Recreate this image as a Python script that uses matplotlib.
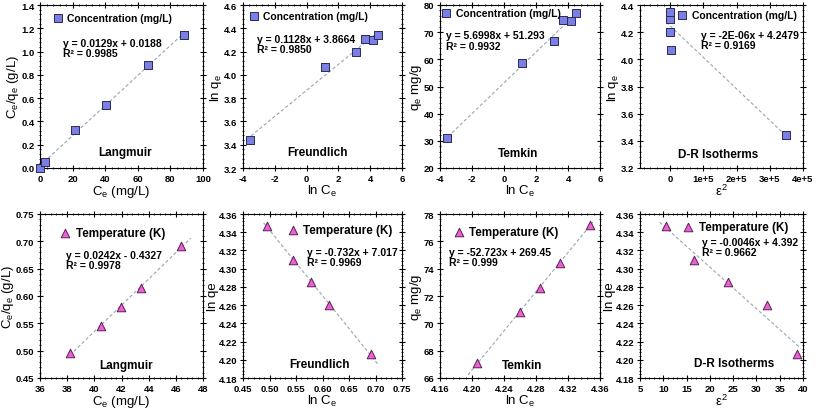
import numpy as np
import matplotlib
matplotlib.use("Agg")
import matplotlib.pyplot as plt
from matplotlib.ticker import AutoMinorLocator, FuncFormatter

# --- data ---
# top row: concentration series
ce_conc = [0.029, 3.0, 21.5, 40.5, 66.0, 88.5]
ceqe_conc = [0.0, 0.055, 0.325, 0.545, 0.885, 1.145]
lnce_conc = [-3.55, 1.15, 3.10, 3.70, 4.20, 4.50]
lnqe_conc = [3.44, 4.07, 4.20, 4.31, 4.30, 4.345]
qe_conc = [31.2, 58.5, 66.6, 74.5, 74.2, 77.2]
eps2_conc = [348000, 1000, 200, 60, 30, 10]

# bottom row: temperature series
ce_temp = [38.2, 40.5, 41.95, 43.45, 46.35]
ceqe_temp = [0.496, 0.545, 0.579, 0.614, 0.692]
lnce_temp = [0.495, 0.545, 0.578, 0.613, 0.691]
lnqe_temp = [4.347, 4.310, 4.285, 4.260, 4.206]
lnce_temp2 = [4.206, 4.260, 4.285, 4.310, 4.347]
qe_temp = [67.1, 70.8, 72.6, 74.45, 77.2]
eps2_temp = [10.5, 16.5, 24.0, 32.3, 38.7]
lnqe_temp2 = [4.347, 4.310, 4.285, 4.260, 4.206]

plt.rcParams.update({
    "font.family": "Liberation Sans",
    "mathtext.default": "regular",
    "xtick.direction": "inout",
    "ytick.direction": "inout",
    "xtick.top": True,
    "ytick.right": True,
    "xtick.minor.visible": True,
    "ytick.minor.visible": True,
    "xtick.major.size": 4,
    "ytick.major.size": 4,
    "xtick.minor.size": 2,
    "ytick.minor.size": 2,
    "xtick.major.width": 0.8,
    "ytick.major.width": 0.8,
    "xtick.minor.width": 0.6,
    "ytick.minor.width": 0.6,
    "axes.linewidth": 0.8,
})

SQ = dict(marker="s", s=30, facecolor="#7a7fe6", edgecolor="#2a2a55", linewidths=0.7, zorder=3)
TRI = dict(marker="^", s=38, facecolor="#ec5fd6", edgecolor="#5a2050", linewidths=0.7, zorder=3)
LINE_C = "#98a6b4"

fig = plt.figure(figsize=(8.16, 4.14), dpi=100)

cols = [40, 243, 440, 640]
widths = [163, 159, 160, 163]
top_row = (1 - 169 / 414, 163 / 414)
bot_row = (1 - 379 / 414, 164 / 414)

panels = [
    dict(x=ce_conc, y=ceqe_conc, st=SQ, xlim=(0, 100), ylim=(0, 1.4),
         xt=np.arange(0, 101, 20), yt=np.arange(0, 1.41, 0.2), yfmt="%.1f", xfmt="%d",
         fr=(0, 90), xl="C$_e$ (mg/L)", yl="C$_e$/q$_e$ (g/L)", lab="Concentration (mg/L)",
         ls=7.5, leg=(0.09, 0.92), eq=(0.14, 0.736), eqt="y = 0.0129x + 0.0188\nR² = 0.9985",
         ti="Langmuir", tp=(0.52, 0.10), r=0, c=0),
    dict(x=lnce_conc, y=lnqe_conc, st=SQ, xlim=(-4, 6), ylim=(3.2, 4.6),
         xt=np.arange(-4, 7, 2), yt=np.arange(3.2, 4.61, 0.2), yfmt="%.1f", xfmt="%d",
         fr=(-3.5, 4.5), xl="ln C$_e$", yl="ln q$_e$", lab="Concentration (mg/L)",
         ls=7.5, leg=(0.05, 0.935), eq=(0.09, 0.76), eqt="y = 0.1128x + 3.8664\nR² = 0.9850",
         ti="Freundlich", tp=(0.47, 0.10), r=0, c=1),
    dict(x=lnce_conc, y=qe_conc, st=SQ, xlim=(-4, 6), ylim=(20, 80),
         xt=np.arange(-4, 7, 2), yt=np.arange(20, 81, 10), yfmt="%d", xfmt="%d",
         fr=(-3.5, 4.5), xl="ln C$_e$", yl="q$_e$ mg/g", lab="Concentration (mg/L)",
         ls=7.5, leg=(0.02, 0.95), eq=(0.035, 0.783), eqt="y = 5.6998x + 51.293\nR² = 0.9932",
         ti="Temkin", tp=(0.49, 0.09), r=0, c=2),
    dict(x=eps2_conc, y=lnqe_conc, st=SQ, xlim=(-0.91e5, 4e5), ylim=(3.2, 4.4),
         xt=np.arange(0, 4.01e5, 1e5), yt=np.arange(3.2, 4.41, 0.2), yfmt="%.1f", xfmt="sci",
         fr=(-0.12e5, 3.48e5), xl="ε$^2$", yl="ln q$_e$", lab="Concentration (mg/L)",
         ls=7.5, leg=(0.24, 0.94), eq=(0.374, 0.786), eqt="y = -2E-06x + 4.2479\nR² = 0.9169",
         ti="D-R Isotherms", tp=(0.48, 0.085), r=0, c=3),
    dict(x=ce_temp, y=ceqe_temp, st=TRI, xlim=(36, 48), ylim=(0.45, 0.75),
         xt=np.arange(36, 49, 2), yt=np.arange(0.45, 0.751, 0.05), yfmt="%.2f", xfmt="%d",
         fr=(38.2, 47.1), xl="C$_e$ (mg/L)", yl="C$_e$/q$_e$ (g/L)", lab="Temperature (K)",
         ls=8.4, leg=(0.134, 0.886), eq=(0.16, 0.72), eqt="y = 0.0242x - 0.4327\nR² = 0.9978",
         ti="Langmuir", tp=(0.525, 0.08), r=1, c=0),
    dict(x=lnce_temp, y=lnqe_temp, st=TRI, xlim=(0.45, 0.75), ylim=(4.18, 4.36),
         xt=np.arange(0.45, 0.751, 0.05), yt=np.arange(4.18, 4.361, 0.02), yfmt="%.2f", xfmt="%.2f",
         fr=(0.489, 0.706), xl="ln C$_e$", yl="ln qe", lab="Temperature (K)",
         ls=8.4, leg=(0.29, 0.90), eq=(0.40, 0.739), eqt="y = -0.732x + 7.017\nR² = 0.9969",
         ti="Freundlich", tp=(0.48, 0.085), r=1, c=1),
    dict(x=lnce_temp2, y=qe_temp, st=TRI, xlim=(4.16, 4.36), ylim=(66, 78),
         xt=np.arange(4.16, 4.361, 0.04), yt=np.arange(66, 79, 2), yfmt="%d", xfmt="%.2f",
         fr=(4.195, 4.352), xl="ln C$_e$", yl="q$_e$ mg/g", lab="Temperature (K)",
         ls=8.4, leg=(0.094, 0.89), eq=(0.056, 0.739), eqt="y = -52.723x + 269.45\nR² = 0.999",
         ti="Temkin", tp=(0.51, 0.08), r=1, c=2),
    dict(x=eps2_temp, y=lnqe_temp2, st=TRI, xlim=(5, 40), ylim=(4.18, 4.36),
         xt=np.arange(5, 41, 5), yt=np.arange(4.18, 4.361, 0.02), yfmt="%.2f", xfmt="%d",
         fr=(9.2, 39.5), xl="ε$^2$", yl="ln qe", lab="Temperature (K)",
         ls=8.4, leg=(0.276, 0.92), eq=(0.378, 0.797), eqt="y = -0.0046x + 4.392\nR² = 0.9662",
         ti="D-R Isotherms", tp=(0.58, 0.093), r=1, c=3),
]


def sci_fmt(v, pos):
    if abs(v) < 1:
        return "0"
    return "%de+5" % round(v / 1e5)


for p in panels:
    yb, h = top_row if p["r"] == 0 else bot_row
    ax = fig.add_axes([cols[p["c"]] / 816, yb, widths[p["c"]] / 816, h])
    x = np.array(p["x"], dtype=float)
    y = np.array(p["y"], dtype=float)

    # linear trendline from the points
    k, b = np.polyfit(x, y, 1)
    xf = np.array(p["fr"])
    ax.plot(xf, k * xf + b, color=LINE_C, lw=0.8, ls=(0, (3, 2)), zorder=2)
    ax.scatter(x, y, label=p["lab"], clip_on=False, **p["st"])

    ax.set_xlim(*p["xlim"])
    ax.set_ylim(*p["ylim"])
    ax.set_xticks(p["xt"])
    ax.set_yticks(p["yt"])
    ax.xaxis.set_minor_locator(AutoMinorLocator(5))
    ax.yaxis.set_minor_locator(AutoMinorLocator(5))
    if p["xfmt"] == "sci":
        ax.xaxis.set_major_formatter(FuncFormatter(sci_fmt))
    else:
        ax.xaxis.set_major_formatter(FuncFormatter(lambda v, pos, f=p["xfmt"]: f % v))
    ax.yaxis.set_major_formatter(FuncFormatter(lambda v, pos, f=p["yfmt"]: f % v))
    ax.tick_params(labelsize=6.8, pad=2)
    for t in ax.get_xticklabels() + ax.get_yticklabels():
        t.set_fontweight("bold")

    ax.set_xlabel(p["xl"], fontsize=9.5, labelpad=0)
    ax.set_ylabel(p["yl"], fontsize=9.5, labelpad=0)

    ax.legend(loc="center left", bbox_to_anchor=p["leg"], frameon=False,
              prop=dict(weight="bold", size=p["ls"]), handletextpad=0.6,
              borderpad=0, borderaxespad=0, handlelength=0.6, scatterpoints=1)
    ax.text(p["eq"][0], p["eq"][1], p["eqt"], transform=ax.transAxes,
            fontsize=7.5, fontweight="bold", va="center", ha="left", linespacing=1.05)
    ax.text(p["tp"][0], p["tp"][1], p["ti"], transform=ax.transAxes,
            fontsize=8.5, fontweight="bold", va="center", ha="center")

fig.savefig("out.png", dpi=100)
